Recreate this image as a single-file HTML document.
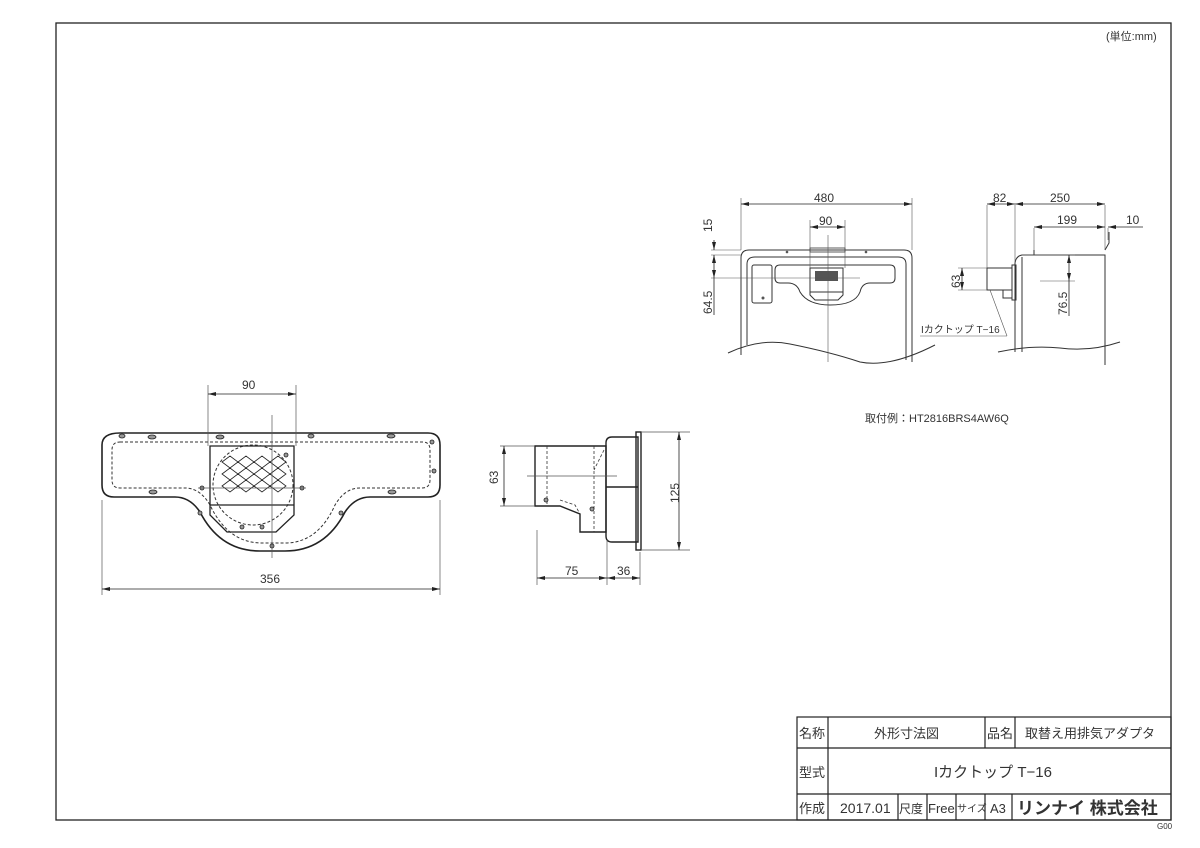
<!DOCTYPE html>
<html><head><meta charset="utf-8"><style>
html,body{margin:0;padding:0;background:#fff;}
svg{display:block;}
text{font-family:"Liberation Sans","Noto Sans CJK JP",sans-serif;fill:#333;}
</style></head><body>
<svg width="1200" height="848" viewBox="0 0 1200 848" xmlns="http://www.w3.org/2000/svg">
<defs>
<marker id="a" markerWidth="8" markerHeight="4" refX="8" refY="2" orient="auto-start-reverse" markerUnits="userSpaceOnUse"><path d="M0,0 L8,2 L0,4z" fill="#222"/></marker>
</defs>
<rect x="56" y="23" width="1115" height="797" fill="none" stroke="#222" stroke-width="1.3"/>
<text x="1106" y="40" font-size="11">(単位:mm)</text>
<text x="1157" y="829" font-size="8">G00</text>

<!-- title block -->
<g stroke="#222" stroke-width="1.2" fill="none">
<rect x="797" y="717" width="374" height="103"/>
<line x1="797" y1="748" x2="1171" y2="748"/>
<line x1="797" y1="794" x2="1171" y2="794"/>
<line x1="828" y1="717" x2="828" y2="820"/>
<line x1="985" y1="717" x2="985" y2="748"/>
<line x1="1015" y1="717" x2="1015" y2="748"/>
<line x1="898" y1="794" x2="898" y2="820"/>
<line x1="927" y1="794" x2="927" y2="820"/>
<line x1="956" y1="794" x2="956" y2="820"/>
<line x1="985" y1="794" x2="985" y2="820"/>
<line x1="1012" y1="794" x2="1012" y2="820"/>
</g>
<g font-size="13">
<text x="799" y="738">名称</text>
<text x="874" y="738">外形寸法図</text>
<text x="987" y="738">品名</text>
<text x="1025" y="738">取替え用排気アダプタ</text>
<text x="799" y="777">型式</text>
<text x="934" y="777" font-size="15">Iカクトップ T−16</text>
<text x="799" y="813">作成</text>
<text x="840" y="813" font-size="14">2017.01</text>
<text x="899" y="813" font-size="12">尺度</text>
<text x="928" y="813" font-size="13">Free</text>
<text x="957" y="812" font-size="10">サイズ</text>
<text x="990" y="813" font-size="13">A3</text>
<text x="1017" y="814" font-size="17" font-weight="bold">リンナイ 株式会社</text>
</g>

<!-- front view of adapter -->
<g stroke="#222" fill="none" stroke-width="1.6">
<path d="M120,433 H428 Q440,433 440,445 V485 Q440,497 428,497 H370 Q355,497 345,512 Q325,551 285,551 H260 Q220,551 200,512 Q190,497 175,497 H114 Q102,497 102,485 V445 Q102,433 120,433Z"/>
</g>
<g stroke="#333" fill="none" stroke-width="1" stroke-dasharray="3,2">
<path d="M120,442 H423 Q430,442 430,450 V480 Q430,488 422,488 H360 Q345,488 335,505 Q318,543 285,543 H262 Q228,543 210,505 Q200,488 185,488 H120 Q112,488 112,480 V450 Q112,442 120,442Z"/>
<circle cx="253" cy="485" r="40"/>
</g>
<g stroke="#222" fill="none" stroke-width="1.3">
<path d="M210,446 H294 V515 L276,532 H227 L210,515Z"/>
<line x1="210" y1="505" x2="294" y2="505"/>
<g stroke-width="0.8">
<path d="M222,462 l8,-6 8,6 -8,6z M238,462 l8,-6 8,6 -8,6z M254,462 l8,-6 8,6 -8,6z M270,462 l8,-6 8,6 -8,6z"/>
<path d="M222,474 l8,-6 8,6 -8,6z M238,474 l8,-6 8,6 -8,6z M254,474 l8,-6 8,6 -8,6z M270,474 l8,-6 8,6 -8,6z"/>
<path d="M222,486 l8,-6 8,6 -8,6z M238,486 l8,-6 8,6 -8,6z M254,486 l8,-6 8,6 -8,6z M270,486 l8,-6 8,6 -8,6z"/>
</g>
</g>
<g fill="#999" stroke="#222" stroke-width="0.8">
<ellipse cx="122" cy="436" rx="3" ry="2"/><ellipse cx="152" cy="437" rx="4" ry="2"/><ellipse cx="220" cy="437" rx="4" ry="2"/><ellipse cx="311" cy="436" rx="3" ry="2"/><ellipse cx="391" cy="436" rx="4" ry="2"/>
<circle cx="432" cy="442" r="2"/><circle cx="434" cy="471" r="2"/><ellipse cx="153" cy="492" rx="4" ry="2"/><ellipse cx="392" cy="492" rx="4" ry="2"/>
<circle cx="200" cy="513" r="2"/><circle cx="341" cy="513" r="2"/><circle cx="272" cy="546" r="2"/><circle cx="242" cy="527" r="2"/><circle cx="262" cy="527" r="2"/><circle cx="286" cy="455" r="2"/><circle cx="202" cy="488" r="2"/><circle cx="302" cy="488" r="2"/>
</g>
<g stroke="#555" stroke-width="0.7" fill="none">
<line x1="272" y1="415" x2="272" y2="558"/>
<line x1="198" y1="488" x2="306" y2="488"/>
<line x1="208" y1="385" x2="208" y2="446"/><line x1="296" y1="385" x2="296" y2="446"/>
<line x1="102" y1="500" x2="102" y2="595"/><line x1="440" y1="500" x2="440" y2="595"/>
</g>
<g stroke="#222" stroke-width="0.8">
<line x1="208" y1="394" x2="296" y2="394" marker-start="url(#a)" marker-end="url(#a)"/>
<line x1="102" y1="589" x2="440" y2="589" marker-start="url(#a)" marker-end="url(#a)"/>
</g>
<text x="242" y="389" font-size="12">90</text>
<text x="260" y="583" font-size="12">356</text>

<!-- side view of adapter -->
<g stroke="#222" fill="none" stroke-width="1.4">
<path d="M535,446 H606 V532 H580 V514 L560,506 H535Z"/>
<path d="M612,437 H638 V542 H612 Q606,542 606,536 V443 Q606,437 612,437Z"/>
<rect x="636" y="432" width="5" height="118"/>
<line x1="606" y1="487" x2="638" y2="487"/>
</g>
<g stroke="#333" fill="none" stroke-width="0.8" stroke-dasharray="3,2">
<line x1="547" y1="446" x2="547" y2="506"/><line x1="594" y1="446" x2="594" y2="532"/><path d="M604,450 L594,470"/><path d="M560,500 L575,505 L580,514"/>
</g>
<circle cx="546" cy="500" r="2" fill="#999" stroke="#222" stroke-width="0.8"/>
<circle cx="592" cy="509" r="2" fill="#999" stroke="#222" stroke-width="0.8"/>
<g stroke="#555" stroke-width="0.7">
<line x1="527" y1="476" x2="617" y2="476"/>
<line x1="500" y1="446" x2="535" y2="446"/><line x1="500" y1="506" x2="535" y2="506"/>
<line x1="642" y1="432" x2="690" y2="432"/><line x1="642" y1="550" x2="690" y2="550"/>
<line x1="537" y1="530" x2="537" y2="585"/><line x1="607" y1="540" x2="607" y2="585"/><line x1="640" y1="552" x2="640" y2="585"/>
</g>
<g stroke="#222" stroke-width="0.8">
<line x1="504" y1="446" x2="504" y2="506" marker-start="url(#a)" marker-end="url(#a)"/>
<line x1="679" y1="432" x2="679" y2="550" marker-start="url(#a)" marker-end="url(#a)"/>
<line x1="537" y1="578" x2="607" y2="578" marker-start="url(#a)" marker-end="url(#a)"/>
<line x1="607" y1="578" x2="640" y2="578" marker-start="url(#a)" marker-end="url(#a)"/>
</g>
<text x="0" y="0" font-size="12" transform="translate(498,484) rotate(-90)">63</text>
<text x="0" y="0" font-size="12" transform="translate(679,503) rotate(-90)">125</text>
<text x="565" y="575" font-size="12">75</text>
<text x="617" y="575" font-size="12">36</text>

<!-- heater front view -->
<g stroke="#333" fill="none" stroke-width="1">
<path d="M741,355 V258 Q741,250 749,250 H904 Q912,250 912,258 V362"/>
<path d="M747,345 V264 Q747,257 755,257 H898 Q906,257 906,264 V360"/>
<path d="M728,353 Q760,338 790,344 Q830,352 860,362 Q890,368 935,345"/>
<path d="M780,265 H890 Q895,265 895,270 V278 Q895,283 890,283 H870 Q862,283 860,292 Q855,305 830,305 Q808,305 800,292 Q797,283 788,283 H780 Q775,283 775,278 V270 Q775,265 780,265Z"/>
<rect x="752" y="265" width="20" height="38" rx="2"/>
<path d="M810,268 H843 V295 L838,300 H815 L810,295Z"/>
<line x1="810" y1="292" x2="843" y2="292"/>
</g>
<g fill="#555"><rect x="815" y="271" width="23" height="10"/><circle cx="763" cy="298" r="1.5"/><circle cx="787" cy="252" r="1.3"/><circle cx="866" cy="252" r="1.3"/></g>
<rect x="810" y="248" width="35" height="4" fill="none" stroke="#333" stroke-width="0.8"/>
<g stroke="#555" stroke-width="0.6">
<line x1="828" y1="235" x2="828" y2="362"/>
<line x1="711" y1="250" x2="741" y2="250"/><line x1="711" y1="255" x2="741" y2="255"/><line x1="711" y1="278" x2="860" y2="278"/>
<line x1="741" y1="198" x2="741" y2="250"/><line x1="912" y1="198" x2="912" y2="250"/>
<line x1="810" y1="220" x2="810" y2="268"/><line x1="845" y1="220" x2="845" y2="268"/>
</g>
<g stroke="#222" stroke-width="0.8">
<line x1="741" y1="204" x2="912" y2="204" marker-start="url(#a)" marker-end="url(#a)"/>
<line x1="810" y1="227" x2="845" y2="227" marker-start="url(#a)" marker-end="url(#a)"/>
<line x1="714" y1="240" x2="714" y2="250" marker-end="url(#a)"/>
<line x1="714" y1="265" x2="714" y2="255" marker-end="url(#a)"/>
<line x1="714" y1="265" x2="714" y2="278" marker-end="url(#a)"/>
<line x1="714" y1="278" x2="714" y2="315"/>
</g>
<text x="814" y="202" font-size="12">480</text>
<text x="819" y="225" font-size="12">90</text>
<text x="0" y="0" font-size="12" transform="translate(712,232) rotate(-90)">15</text>
<text x="0" y="0" font-size="12" transform="translate(712,314) rotate(-90)">64.5</text>

<!-- heater side view -->
<g stroke="#333" fill="none" stroke-width="1">
<line x1="1015" y1="263" x2="1015" y2="352"/><line x1="1022" y1="257" x2="1022" y2="352"/>
<path d="M1015,263 Q1016,256 1022,255 H1105 V365"/>
<path d="M1105,250 L1109,243 V232"/>
<path d="M998,352 Q1030,345 1060,348 Q1090,352 1120,342"/>
<rect x="987" y="268" width="25" height="22"/>
<path d="M1012,265 H1016 V300 H1012Z"/>
<rect x="1003" y="290" width="9" height="8"/>
<line x1="1034" y1="250" x2="1034" y2="255"/>
</g>
<g stroke="#555" stroke-width="0.6">
<line x1="987" y1="205" x2="987" y2="268"/><line x1="1015" y1="205" x2="1015" y2="263"/>
<line x1="1105" y1="205" x2="1105" y2="250"/><line x1="1034" y1="228" x2="1034" y2="250"/><line x1="1108" y1="228" x2="1108" y2="240"/>
<line x1="958" y1="268" x2="987" y2="268"/><line x1="958" y1="290" x2="987" y2="290"/>
<line x1="1040" y1="281" x2="1075" y2="281"/><line x1="1022" y1="255" x2="1075" y2="255"/>
<line x1="920" y1="336" x2="1007" y2="336"/><line x1="1007" y1="336" x2="990" y2="290"/>
</g>
<g stroke="#222" stroke-width="0.8">
<line x1="987" y1="204" x2="1015" y2="204" marker-start="url(#a)" marker-end="url(#a)"/>
<line x1="1015" y1="204" x2="1105" y2="204" marker-start="url(#a)" marker-end="url(#a)"/>
<line x1="1034" y1="227" x2="1105" y2="227" marker-start="url(#a)" marker-end="url(#a)"/>
<line x1="1125" y1="227" x2="1108" y2="227" marker-end="url(#a)"/><line x1="1125" y1="227" x2="1143" y2="227"/>
<line x1="962" y1="268" x2="962" y2="290" marker-start="url(#a)" marker-end="url(#a)"/>
<line x1="1069" y1="255" x2="1069" y2="281" marker-start="url(#a)" marker-end="url(#a)"/>
<line x1="1069" y1="281" x2="1069" y2="316"/>
</g>
<text x="993" y="202" font-size="12">82</text>
<text x="1050" y="202" font-size="12">250</text>
<text x="1057" y="224" font-size="12">199</text>
<text x="1126" y="224" font-size="12">10</text>
<text x="0" y="0" font-size="12" transform="translate(960,288) rotate(-90)">63</text>
<text x="0" y="0" font-size="12" transform="translate(1067,315) rotate(-90)">76.5</text>
<text x="921" y="333" font-size="10">Iカクトップ T−16</text>
<text x="865" y="422" font-size="11">取付例：HT2816BRS4AW6Q</text>
</svg>
</body></html>
